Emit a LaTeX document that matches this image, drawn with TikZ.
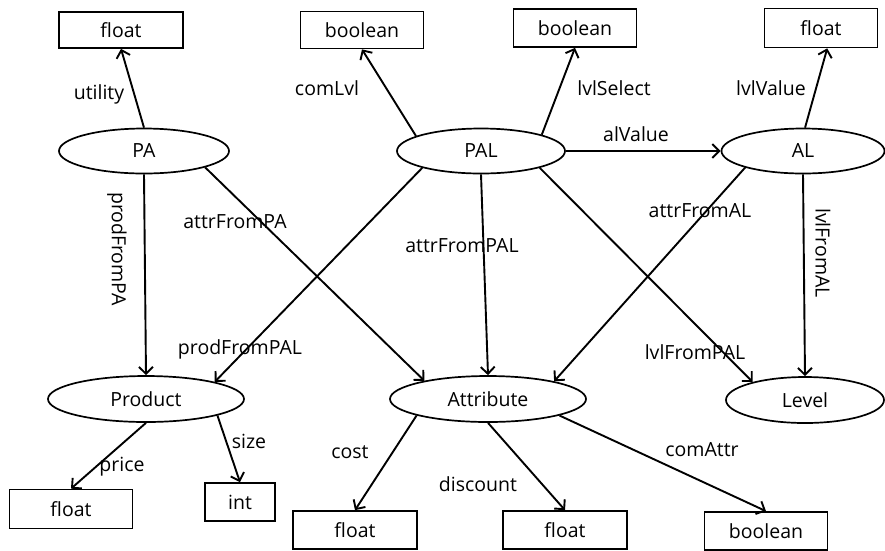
\documentclass[tikz,border=0pt]{standalone}
\usepackage{fontspec}
\setmainfont{Open Sans}
\usetikzlibrary{shapes.geometric,arrows.meta}
\begin{document}
\begin{tikzpicture}[x=1pt,y=-1pt,
  font=\fontsize{19.5}{21}\selectfont,
  ent/.style={draw,ellipse,line width=1.7pt,inner sep=0pt,minimum height=45pt},
  val/.style={draw,rectangle,line width=1.7pt,inner sep=0pt,minimum height=37pt},
  rel/.style={line width=1.9pt,-{Straight Barb[length=7pt,width=14pt,line width=1.9pt]}},
  lbl/.style={inner sep=0pt}]
\useasboundingbox (0,0) rectangle (885,550);
% entities
\node[ent,minimum width=170pt] (PA) at (144,151) {PA};
\node[ent,minimum width=168pt] (PAL) at (481,151) {PAL};
\node[ent,minimum width=163pt] (AL) at (803,151) {AL};
\node[ent,minimum width=196pt,minimum height=46pt] (Prod) at (146,399) {Product};
\node[ent,minimum width=196pt,minimum height=46pt] (Attr) at (488,399) {Attribute};
\node[ent,minimum width=158pt,minimum height=46pt] (Lev) at (805,400) {Level};
% value boxes
\node[val,minimum width=124pt,minimum height=36pt] (F1) at (121,30) {float};
\node[val,minimum width=123pt] (B1) at (362,30) {boolean};
\node[val,minimum width=123pt,minimum height=38pt] (B2) at (575,28) {boolean};
\node[val,minimum width=113pt,minimum height=39pt] (F2) at (821,28) {float};
\node[val,minimum width=123pt,minimum height=39pt] (F3) at (71,509) {float};
\node[val,minimum width=70pt,minimum height=38pt] (I1) at (240,502) {int};
\node[val,minimum width=124pt,minimum height=38pt] (F4) at (355,530) {float};
\node[val,minimum width=124pt,minimum height=38pt] (F5) at (565,530) {float};
\node[val,minimum width=123pt,minimum height=38pt] (B3) at (766,531) {boolean};
% connectors
\draw[rel] (PA.north) -- (F1.south);
\draw[rel] (PAL.167.6) -- (B1.south);
\draw[rel] (PAL.15.2) -- (B2.south);
\draw[rel] (PAL.east) -- (AL.west);
\draw[rel] (AL.85) -- (F2.-73);
\draw[rel] (PA.south) -- (Prod.north);
\draw[rel] (PA.-15.8) -- (Attr.164.8);
\draw[rel] (PAL.196.6) -- (Prod.14.8);
\draw[rel] (PAL.south) -- (Attr.north);
\draw[rel] (PAL.-16) -- (Lev.161);
\draw[rel] (AL.196.6) -- (Attr.15.2);
\draw[rel] (AL.south) -- (Lev.north);
\draw[rel] (Prod.south) -- (F3.north);
\draw[rel] (Prod.-13.7) -- (I1.north);
\draw[rel] (Attr.193.7) -- (F4.north);
\draw[rel] (Attr.south) -- (F5.north);
\draw[rel] (Attr.-13.7) -- (B3.north);
% labels
\node[lbl] (lutil) at (99,94) {utility};
\node[lbl] (lcom) at (327,88) {comLvl};
\node[lbl] (lsel) at (614,88) {lvlSelect};
\node[lbl] (lalv) at (636,134) {alValue};
\node[lbl] (llvv) at (771,88) {lvlValue};
\node[lbl,rotate=-90] (lpfpa) at (117,249) {prodFromPA};
\node[lbl] (lafpa) at (235,222) {attrFromPA};
\node[lbl] (lpfpal) at (240,349) {prodFromPAL};
\node[lbl] (lafpal) at (462,246) {attrFromPAL};
\node[lbl] (lafal) at (700,211) {attrFromAL};
\node[lbl] (llfpal) at (695,352) {lvlFromPAL};
\node[lbl,rotate=-90] (llfal) at (823,253) {lvlFromAL};
\node[lbl] (lprice) at (122,467) {price};
\node[lbl] (lsize) at (249,441) {size};
\node[lbl] (lcost) at (350,452) {cost};
\node[lbl] (ldisc) at (478,484) {discount};
\node[lbl] (lcomA) at (702,450) {comAttr};
\end{tikzpicture}
\end{document}
